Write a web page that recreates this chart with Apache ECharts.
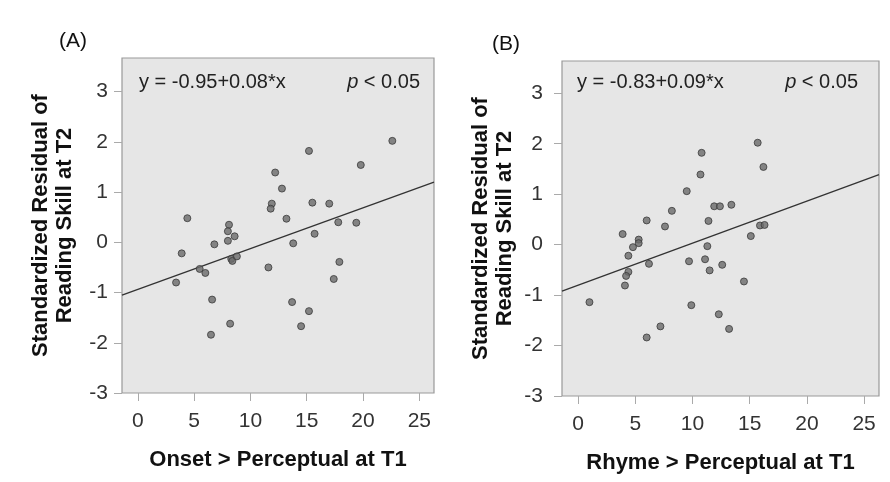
<!DOCTYPE html>
<html>
<head>
<meta charset="utf-8">
<script src="https://cdn.jsdelivr.net/npm/echarts@6/dist/echarts.min.js"></script>
<style>
  html, body { margin: 0; padding: 0; background: #fff; }
  #chart { width: 890px; height: 482px; }
</style>
</head>
<body>
<div id="chart"></div>
<script>
const xTicks = [0, 5, 10, 15, 20, 25]
const yTicks = [-3, -2, -1, 0, 1, 2, 3]

// (A) Onset > Perceptual at T1
const onsetX = [22.6, 15.2, 19.8, 12.2, 12.8, 11.9, 11.8, 15.5, 17.0, 4.4, 13.2, 17.8,
  19.4, 8.1, 8.0, 8.6, 8.0, 15.7, 6.8, 13.8, 3.9, 8.3, 8.4, 8.8, 5.5, 6.0, 3.4, 11.6,
  17.9, 17.4, 6.6, 13.7, 15.2, 8.2, 14.5, 6.5]
const onsetY = [2.02, 1.82, 1.54, 1.39, 1.07, 0.77, 0.67, 0.79, 0.77, 0.48, 0.47, 0.40,
  0.39, 0.35, 0.22, 0.12, 0.03, 0.17, -0.04, -0.02, -0.22, -0.33, -0.37, -0.28, -0.53,
  -0.61, -0.80, -0.50, -0.39, -0.73, -1.14, -1.19, -1.37, -1.62, -1.67, -1.84]
const fitAX = [-1.4, 26.3]
const fitAY = [-1.05, 1.2]

// (B) Rhyme > Perceptual at T1
const rhymeX = [15.7, 10.8, 16.2, 10.7, 9.5, 8.2, 11.9, 12.4, 13.4, 6.0, 11.4, 7.6,
  15.9, 16.3, 15.1, 3.9, 5.3, 5.3, 4.8, 11.3, 4.4, 9.7, 11.1, 6.2, 12.6, 11.5, 4.4,
  4.2, 4.1, 14.5, 1.0, 9.9, 12.3, 7.2, 13.2, 6.0]
const rhymeY = [2.02, 1.82, 1.54, 1.39, 1.06, 0.67, 0.76, 0.76, 0.79, 0.48, 0.47, 0.36,
  0.38, 0.39, 0.17, 0.21, 0.10, 0.03, -0.05, -0.03, -0.22, -0.33, -0.29, -0.38, -0.40,
  -0.51, -0.54, -0.62, -0.81, -0.73, -1.14, -1.20, -1.38, -1.62, -1.67, -1.84]
const fitBX = [-1.4, 26.3]
const fitBY = [-0.92, 1.39]

const font = 'Liberation Sans, Arial, sans-serif'

const zip = (xs, ys) => xs.map((x, i) => [x, ys[i]])

const makeX = (idx, name) => ({
  type: 'value', gridIndex: idx, min: -1.4, max: 26.3,
  name: name, nameLocation: 'middle', nameGap: 56,
  nameTextStyle: { fontFamily: font, fontSize: 22, fontWeight: 'bold', color: '#111' },
  axisLine: { show: false, onZero: false },
  splitLine: { show: false },
  axisTick: { show: true, customValues: xTicks, length: 8, lineStyle: { color: '#aaa' } },
  axisLabel: { customValues: xTicks, margin: 18, fontFamily: font, fontSize: 21, color: '#333' }
})

const makeY = (idx, max, margin) => ({
  type: 'value', gridIndex: idx, min: -3, max: max,
  name: 'Standardized Residual of\nReading Skill at T2', nameLocation: 'middle', nameRotate: 90, nameGap: 45,
  nameTextStyle: { fontFamily: font, fontSize: 22, fontWeight: 'bold', lineHeight: 24, color: '#111' },
  axisLine: { show: false, onZero: false },
  splitLine: { show: false },
  axisTick: { show: true, customValues: yTicks, length: 8, lineStyle: { color: '#aaa' } },
  axisLabel: { customValues: yTicks, margin: margin, fontFamily: font, fontSize: 21, color: '#333' }
})

const dotStyle = { color: '#6a6a6a', borderColor: '#3a3a3a', borderWidth: 1 }

const annot = (x, y, text, align) => ({
  type: 'text', x: x, y: y,
  style: { text: text, fontFamily: font, fontSize: 20, fill: '#222', align: align, verticalAlign: 'middle',
    rich: { i: { fontStyle: 'italic', fontFamily: font, fontSize: 20, fill: '#222' },
            n: { fontFamily: font, fontSize: 20, fill: '#222' } } }
})

const chart = echarts.init(document.getElementById('chart'), null, { renderer: 'canvas' })
chart.setOption({
  animation: false,
  backgroundColor: '#fff',
  grid: [
    { left: 122, top: 58, width: 312, height: 335, show: true, backgroundColor: '#e6e6e6', borderColor: '#999', borderWidth: 1.2 },
    { left: 562, top: 61, width: 317, height: 335, show: true, backgroundColor: '#e6e6e6', borderColor: '#999', borderWidth: 1.2 }
  ],
  xAxis: [makeX(0, 'Onset > Perceptual at T1'), makeX(1, 'Rhyme > Perceptual at T1')],
  yAxis: [makeY(0, 3.67, 14), makeY(1, 3.64, 19)],
  series: [
    { type: 'line', xAxisIndex: 0, yAxisIndex: 0, data: zip(fitAX, fitAY), symbol: 'none',
      lineStyle: { color: '#333', width: 1.3 }, z: 2 },
    { type: 'scatter', xAxisIndex: 0, yAxisIndex: 0, data: zip(onsetX, onsetY), symbolSize: 7,
      itemStyle: dotStyle, z: 3 },
    { type: 'line', xAxisIndex: 1, yAxisIndex: 1, data: zip(fitBX, fitBY), symbol: 'none',
      lineStyle: { color: '#333', width: 1.3 }, z: 2 },
    { type: 'scatter', xAxisIndex: 1, yAxisIndex: 1, data: zip(rhymeX, rhymeY), symbolSize: 7,
      itemStyle: dotStyle, z: 3 }
  ],
  graphic: [
    { type: 'text', x: 59, y: 41, style: { text: '(A)', fontFamily: font, fontSize: 21, fill: '#111', verticalAlign: 'middle' } },
    { type: 'text', x: 492, y: 44, style: { text: '(B)', fontFamily: font, fontSize: 21, fill: '#111', verticalAlign: 'middle' } },
    annot(139, 82, 'y = -0.95+0.08*x', 'left'),
    annot(420, 82, '{i|p}{n| < 0.05}', 'right'),
    annot(577, 82, 'y = -0.83+0.09*x', 'left'),
    annot(858, 82, '{i|p}{n| < 0.05}', 'right')
  ]
})
</script>
</body>
</html>
